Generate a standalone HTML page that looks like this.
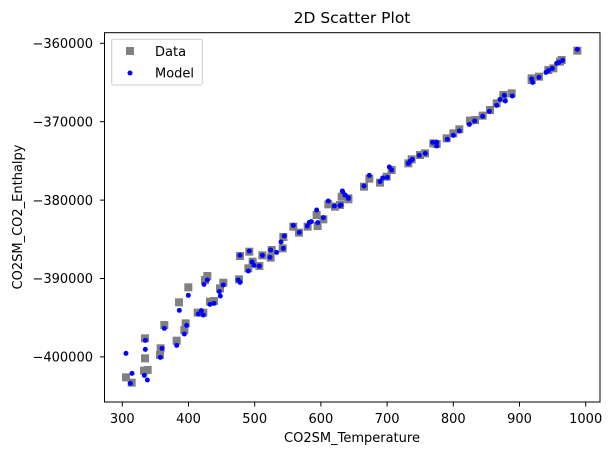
<!DOCTYPE html>
<html><head><meta charset="utf-8"><style>
html,body{margin:0;padding:0;background:#fff;}
svg{display:block;font-family:"DejaVu Sans","Liberation Sans",sans-serif;}
</style></head><body>
<svg id="s" width="612" height="455" xmlns="http://www.w3.org/2000/svg">
<rect width="612" height="455" fill="#fff"/>
<g id="pts"></g>
<rect x="104.5" y="32.7" width="495.5" height="369.3" fill="none" stroke="#000" stroke-width="1"/>
<g stroke="#000" stroke-width="1">
<line x1="122.3" y1="402" x2="122.3" y2="406.5"/><line x1="188.5" y1="402" x2="188.5" y2="406.5"/>
<line x1="254.7" y1="402" x2="254.7" y2="406.5"/><line x1="320.9" y1="402" x2="320.9" y2="406.5"/>
<line x1="387.1" y1="402" x2="387.1" y2="406.5"/><line x1="453.3" y1="402" x2="453.3" y2="406.5"/>
<line x1="519.5" y1="402" x2="519.5" y2="406.5"/><line x1="585.7" y1="402" x2="585.7" y2="406.5"/>
<line x1="100" y1="43.3" x2="104.5" y2="43.3"/><line x1="100" y1="121.7" x2="104.5" y2="121.7"/>
<line x1="100" y1="200.1" x2="104.5" y2="200.1"/><line x1="100" y1="278.5" x2="104.5" y2="278.5"/>
<line x1="100" y1="356.9" x2="104.5" y2="356.9"/>
</g>
<g font-size="13" text-anchor="middle" fill="#000">
<text x="122.3" y="423">300</text><text x="188.5" y="423">400</text><text x="254.7" y="423">500</text>
<text x="320.9" y="423">600</text><text x="387.1" y="423">700</text><text x="453.3" y="423">800</text>
<text x="519.5" y="423">900</text><text x="585.7" y="423">1000</text>
</g>
<g font-size="13" text-anchor="end" fill="#000">
<text x="93" y="48">−360000</text><text x="93" y="126.4">−370000</text><text x="93" y="204.8">−380000</text>
<text x="93" y="283.2">−390000</text><text x="93" y="361.6">−400000</text>
</g>
<text x="352" y="23" font-size="15.5" text-anchor="middle">2D Scatter Plot</text>
<text x="352" y="442" font-size="13" text-anchor="middle">CO2SM_Temperature</text>
<text transform="translate(22,217) rotate(-90)" font-size="13" text-anchor="middle">CO2SM_CO2_Enthalpy</text>
<rect x="111.7" y="39.3" width="90.6" height="45.7" rx="2" fill="#fff" fill-opacity="0.8" stroke="#ccc"/>
<rect x="126" y="47" width="8" height="8" fill="#808080"/>
<circle cx="130" cy="73" r="2.5" fill="#0000ff"/>
<text x="155" y="56" font-size="13">Data</text>
<text x="155" y="77.5" font-size="13">Model</text>
</svg>
<script>
var g=document.getElementById('pts'),h="";
var s1=[[108,1072],[125,1088],[165,1015],[165,955],[162,1052],[173,1050],[212,985],[210,1005],[223,915],[260,962],[287,910],[283,930],[267,847],[295,802],[323,878],[340,878],[345,780],[352,768],[360,845],[372,843],[390,805],[400,788],[447,778],[450,708],[478,695],[475,745],[488,725],[508,738],[517,706],[542,713],[545,690],[578,685],[580,651],[610,620],[627,638],[653,620],[680,585],[683,618],[700,598],[715,553],[735,560],[755,530],[775,535]];
var d1=[[108,1000],[126,1060],[121,1090],[166,988],[166,961],[163,1066],[172,1080],[211,1012],[216,985],[223,925],[260,976],[268,871],[283,942],[290,916],[295,826],[325,882],[334,872],[340,885],[342,793],[352,780],[360,853],[372,850],[388,815],[391,828],[400,795],[445,780],[450,787],[450,706],[475,753],[478,693],[486,726],[492,736],[508,738],[517,706],[540,712],[542,690],[560,697],[573,666],[580,685],[583,648],[610,616],[628,637],[652,618],[658,607],[664,605],[680,570],[683,608],[700,593],[715,543],[733,558],[750,557],[757,513],[765,525],[775,533]];
var s2=[[0,555],[25,538],[72,500],[88,476],[120,488],[140,470],[155,450],[205,430],[215,418],[240,405],[255,400],[280,370],[290,372],[320,355],[340,340],[358,328],[390,302],[405,300],[428,287],[450,270],[470,250],[490,235],[490,225],[515,220],[575,180],[575,175],[597,170],[625,150],[640,145],[660,125],[665,120],[712,92]];
var d2=[[3,555],[8,515],[15,525],[25,535],[72,498],[88,466],[120,485],[128,474],[142,472],[148,441],[155,450],[205,430],[210,424],[217,418],[238,406],[256,400],[278,367],[290,367],[290,378],[322,358],[340,346],[358,333],[388,313],[404,303],[428,289],[448,274],[470,256],[480,238],[493,226],[496,243],[517,228],[575,177],[578,187],[597,172],[618,157],[625,152],[637,145],[650,130],[657,127],[668,121],[712,88]];
function sq(a,ox){a.forEach(function(p){h+='<rect x="'+(ox+p[0]/3-4)+'" y="'+(20+p[1]/3-4)+'" width="8" height="8" fill="#808080"/>';});}
function dt(a,ox){a.forEach(function(p){h+='<circle cx="'+(ox+p[0]/3)+'" cy="'+(20+p[1]/3)+'" r="2.5" fill="#0000ff"/>';});}
sq(s1,90);sq(s2,340);dt(d1,90);dt(d2,340);
g.innerHTML=h;
</script>
</body></html>
